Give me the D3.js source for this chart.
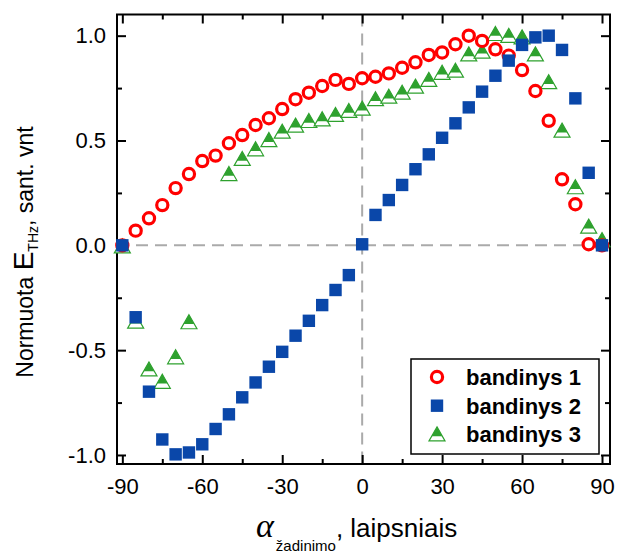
<!DOCTYPE html>
<html>
<head>
<meta charset="utf-8">
<script src="https://cdn.jsdelivr.net/npm/d3@7"></script>
<style>
  body { margin: 0; background: #fff; }
  text { font-family: Arial, "Liberation Sans", sans-serif; }
</style>
</head>
<body>
<svg id="chart" width="628" height="554"></svg>
<script>
// excitation angle, degrees
const angles = [-90, -85, -80, -75, -70, -65, -60, -55, -50, -45, -40, -35, -30, -25, -20, -15, -10, -5, 0,
  5, 10, 15, 20, 25, 30, 35, 40, 45, 50, 55, 60, 65, 70, 75, 80, 85, 90];

const bandinys1 = [0, 0.07, 0.129, 0.192, 0.273, 0.34, 0.402, 0.428, 0.487, 0.526, 0.574, 0.606, 0.65, 0.697,
  0.728, 0.76, 0.789, 0.77, 0.797, 0.804, 0.82, 0.847, 0.873, 0.908, 0.92, 0.959, 1.0, 0.975, 0.935, 0.905,
  0.836, 0.736, 0.594, 0.315, 0.196, 0.005, 0];

const bandinys2 = [0, -0.343, -0.698, -0.926, -0.997, -0.988, -0.949, -0.876, -0.806, -0.725, -0.654, -0.579,
  -0.508, -0.431, -0.36, -0.285, -0.213, -0.142, 0.005, 0.145, 0.216, 0.288, 0.363, 0.434, 0.513, 0.582,
  0.658, 0.733, 0.809, 0.881, 0.956, 0.992, 1.0, 0.932, 0.701, 0.346, 0];

const bandinys3 = [-0.005, -0.364, -0.592, -0.651, -0.534, -0.367, null, null, 0.34, 0.412, 0.458, 0.502,
  0.542, 0.571, 0.593, 0.601, 0.622, 0.641, 0.652, 0.697, 0.709, 0.728, 0.757, 0.789, 0.823, 0.833, 0.911,
  0.924, 1.008, 0.999, 0.992, 0.911, 0.778, 0.547, 0.277, 0.089, 0.025];

const xMajor = [-90, -60, -30, 0, 30, 60, 90];
const xMinor = [-75, -45, -15, 15, 45, 75];
const yMajor = [-1.0, -0.5, 0.0, 0.5, 1.0];
const yMinor = [-0.75, -0.25, 0.25, 0.75];
const legendNames = ["bandinys 1", "bandinys 2", "bandinys 3"];

const RED = "#ff0000", BLUE = "#0a47a9", GREEN = "#2ea12e";

const svg = d3.select("#chart");
const L = 117, R = 610, T = 14.5, B = 464;

const x = d3.scaleLinear().domain([-92, 93]).range([L, R]);
const y = d3.scaleLinear().domain([-1.043, 1.101]).range([B, T]);

// zero lines
svg.append("line")
  .attr("x1", L).attr("x2", R).attr("y1", y(0)).attr("y2", y(0))
  .attr("stroke", "#aaaaaa").attr("stroke-width", 2).attr("stroke-dasharray", "12,7");
svg.append("line")
  .attr("x1", x(0)).attr("x2", x(0)).attr("y1", T).attr("y2", B)
  .attr("stroke", "#aaaaaa").attr("stroke-width", 2).attr("stroke-dasharray", "12,7");

// axes, ticks pointing inside
function styleAxis(g) {
  g.select(".domain").remove();
  g.selectAll(".tick line").attr("stroke", "#000").attr("stroke-width", 2);
  g.selectAll(".tick text").attr("fill", "#000").style("font-size", "22px")
    .style("font-family", "Arial, 'Liberation Sans', sans-serif");
}

svg.append("g").attr("transform", `translate(0,${B})`)
  .call(d3.axisBottom(x).tickValues(xMajor).tickSize(-9).tickPadding(14).tickFormat(d3.format("d")))
  .call(styleAxis);
svg.append("g").attr("transform", `translate(0,${B})`)
  .call(d3.axisBottom(x).tickValues(xMinor).tickSize(-5).tickFormat(""))
  .call(styleAxis);
svg.append("g").attr("transform", `translate(0,${T})`)
  .call(d3.axisTop(x).tickValues(xMajor).tickSize(-9).tickFormat(""))
  .call(styleAxis);
svg.append("g").attr("transform", `translate(0,${T})`)
  .call(d3.axisTop(x).tickValues(xMinor).tickSize(-5).tickFormat(""))
  .call(styleAxis);

svg.append("g").attr("transform", `translate(${L},0)`)
  .call(d3.axisLeft(y).tickValues(yMajor).tickSize(-9).tickPadding(11).tickFormat(d3.format(".1f")))
  .call(styleAxis);
svg.append("g").attr("transform", `translate(${L},0)`)
  .call(d3.axisLeft(y).tickValues(yMinor).tickSize(-5).tickFormat(""))
  .call(styleAxis);
svg.append("g").attr("transform", `translate(${R},0)`)
  .call(d3.axisRight(y).tickValues(yMajor).tickSize(-9).tickFormat(""))
  .call(styleAxis);
svg.append("g").attr("transform", `translate(${R},0)`)
  .call(d3.axisRight(y).tickValues(yMinor).tickSize(-5).tickFormat(""))
  .call(styleAxis);

svg.selectAll(".tick text").text(function() { return d3.select(this).text().replace("−", "-"); });

// frame
svg.append("rect")
  .attr("x", L).attr("y", T).attr("width", R - L).attr("height", B - T)
  .attr("fill", "none").attr("stroke", "#000").attr("stroke-width", 2);

// marker helpers
function triangle(g) {
  g.append("path").attr("d", "M0,-7.5L8,6.5L-8,6.5Z")
    .attr("fill", "#fff").attr("stroke", GREEN).attr("stroke-width", 1.2);
  g.append("path").attr("d", "M0,-7.5L5.3,1.8L-5.3,1.8Z").attr("fill", GREEN);
}
function circle(g) {
  g.append("circle").attr("r", 5.6).attr("fill", "#fff").attr("stroke", RED).attr("stroke-width", 3.2);
}
function square(g) {
  g.append("rect").attr("x", -6.2).attr("y", -6.2).attr("width", 12.4).attr("height", 12.4).attr("fill", BLUE);
}

function drawSeries(values, marker) {
  const pts = angles.map((a, i) => ({ a, v: values[i] })).filter(d => d.v !== null);
  svg.append("g").selectAll("g").data(pts).join("g")
    .attr("transform", d => `translate(${x(d.a)},${y(d.v)})`)
    .each(function() { marker(d3.select(this)); });
}

drawSeries(bandinys3, triangle);
drawSeries(bandinys1, circle);
drawSeries(bandinys2, square);

// legend
const lg = svg.append("g");
lg.append("rect").attr("x", 411).attr("y", 359).attr("width", 188).attr("height", 95)
  .attr("fill", "#fff").attr("stroke", "#000").attr("stroke-width", 1.5);
const markers = [circle, square, triangle];
legendNames.forEach((name, i) => {
  const cy = 377 + i * 28.7;
  const m = lg.append("g").attr("transform", `translate(437,${cy})`);
  markers[i](m);
  lg.append("text").attr("x", 466).attr("y", cy).attr("dy", "0.36em")
    .style("font-size", "22px").style("font-weight", "bold").text(name);
});

// axis titles
const xt = svg.append("text").attr("x", 256).attr("y", 537).attr("fill", "#000");
xt.append("tspan").style("font-family", "'Liberation Serif', 'Times New Roman', serif")
  .style("font-style", "italic").style("font-size", "34px").text("α");
xt.append("tspan").attr("dx", 2).attr("dy", 14).style("font-size", "15px").text("žadinimo");
xt.append("tspan").attr("dy", -14).style("font-size", "26px").text(", laipsniais");

const yt = svg.append("text").attr("transform", "translate(33,252) rotate(-90)")
  .attr("text-anchor", "middle").attr("fill", "#000").style("font-size", "23px");
yt.append("tspan").text("Normuota ");
yt.append("tspan").style("font-size", "28px").text("E");
yt.append("tspan").attr("dy", 5).style("font-size", "14px").text("THz");
yt.append("tspan").attr("dy", -5).text(", sant. vnt");
</script>
</body>
</html>
